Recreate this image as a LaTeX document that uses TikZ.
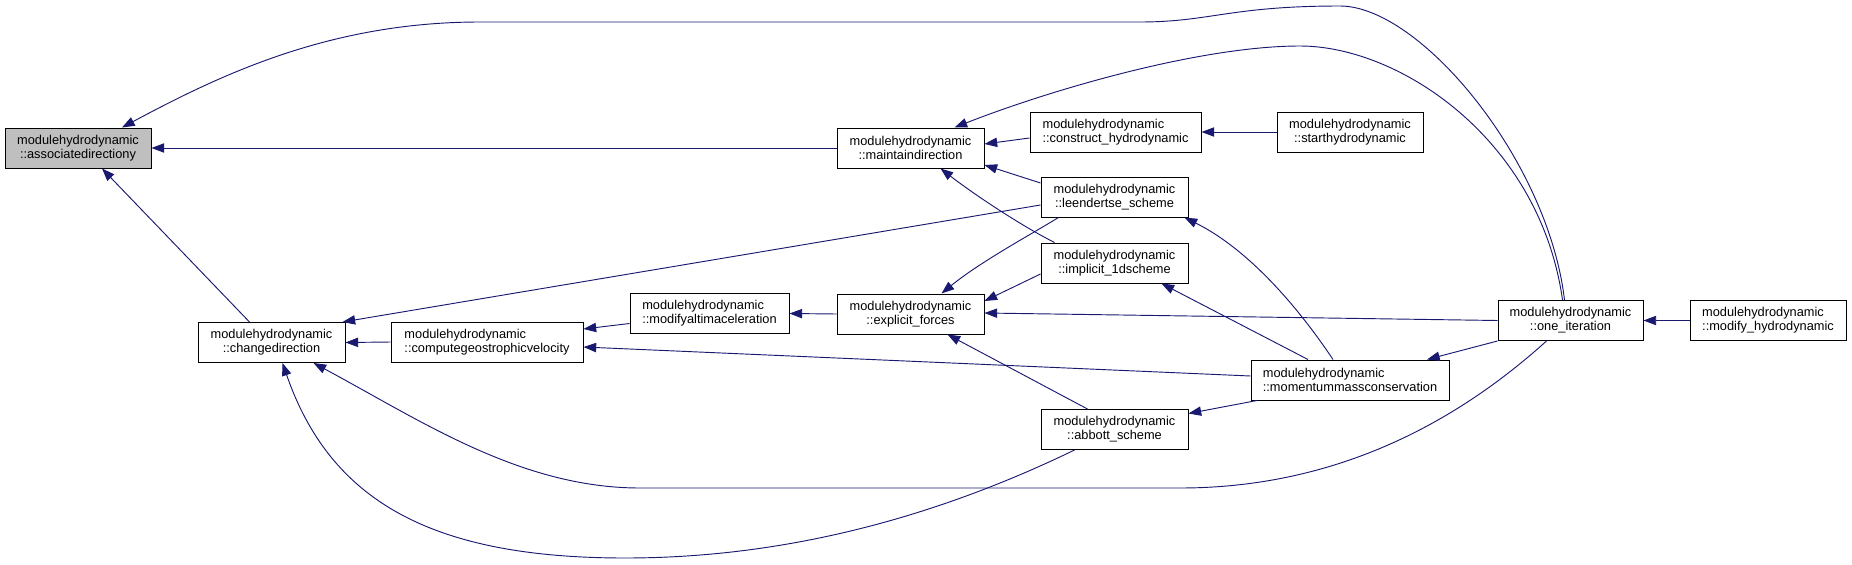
\documentclass[tikz,border=0pt]{standalone}
\usepackage{fontspec}
\setmainfont{Liberation Sans}
\usetikzlibrary{arrows.meta,calc}
\definecolor{edgeblue}{RGB}{25,25,112}
\definecolor{selgray}{RGB}{191,191,191}
\begin{document}
\begin{tikzpicture}[x=0.75pt,y=-0.75pt,
  fn/.style={draw=black, line width=0.75pt, inner sep=0pt, minimum height=30pt,
    font=\fontsize{9.6}{10.4}\selectfont, align=center},
  fnl/.style={fn, align=left},
  edge/.style={draw=edgeblue, line width=0.7pt, -{Triangle[length=9.5pt,width=7pt]}}]
\useasboundingbox (0,0) rectangle (1852,564);

\node[fn, fill=selgray, minimum width=109.5pt] (A) at (78,148) {modulehydrodynamic\\::associatedirectiony};
\node[fn, minimum width=110.25pt] (CD) at (271.5,342.5) {modulehydrodynamic\\::changedirection};
\node[fnl, minimum width=144pt] (CG) at (487,342) {modulehydrodynamic\\::computegeostrophicvelocity};
\node[fnl, minimum width=119.25pt] (MA) at (709.5,313.5) {modulehydrodynamic\\::modifyaltimaceleration};
\node[fn, minimum width=110.25pt] (MD) at (910.5,148) {modulehydrodynamic\\::maintaindirection};
\node[fnl, minimum width=128.25pt] (CH) at (1115.5,132) {modulehydrodynamic\\::construct\_hydrodynamic};
\node[fn, minimum width=109.5pt] (SH) at (1350,132) {modulehydrodynamic\\::starthydrodynamic};
\node[fn, minimum width=110.25pt] (LS) at (1114.5,197) {modulehydrodynamic\\::leendertse\_scheme};
\node[fn, minimum width=110.25pt] (IS) at (1114.5,263) {modulehydrodynamic\\::implicit\_1dscheme};
\node[fn, minimum width=110.25pt] (EF) at (910.5,314) {modulehydrodynamic\\::explicit\_forces};
\node[fn, minimum width=110.25pt] (AS) at (1114.5,429.5) {modulehydrodynamic\\::abbott\_scheme};
\node[fnl, minimum width=148.5pt] (MM) at (1350,380) {modulehydrodynamic\\::momentummassconservation};
\node[fn, minimum width=108.75pt] (OI) at (1570.5,320.5) {modulehydrodynamic\\::one\_iteration};
\node[fnl, minimum width=117pt] (MH) at (1768,320.5) {modulehydrodynamic\\::modify\_hydrodynamic};

% edges into associatedirectiony
\draw[edge] (MD.west) -- (A.east);
\draw[edge] ($(CD.north)+(-22,0)$) -- ($(A.south)+(24,0)$);
\draw[edge] ($(OI.north)+(-6,0)$) .. controls (1548,160) and (1420,6) .. (1340,6)
  .. controls (1230,6) and (1210,22) .. (1140,22) -- (480,22)
  .. controls (330,22) and (220,75) .. ($(A.north)+(44,0)$);

% edges into maintaindirection
\draw[edge] ($(OI.north)+(-8,0)$) .. controls (1540,140) and (1400,46) .. (1300,46)
  .. controls (1200,46) and (1050,90) .. ($(MD.north)+(44,0)$);
\draw[edge] ($(CH.west)+(0,6)$) -- ($(MD.east)+(0,-4)$);
\draw[edge] ($(LS.west)+(0,-14)$) -- ($(MD.east)+(0,17)$);
\draw[edge] ($(IS.north)+(-60,0)$) .. controls (1020,225) and (975,195) .. ($(MD.south)+(30,0)$);
\draw[edge] (SH.west) -- (CH.east);

% edges into changedirection
\draw[edge] (CG.west) -- (CD.east);
\draw[edge] ($(LS.west)+(0,8)$) -- ($(CD.north east)+(-3,0)$);
\draw[edge] ($(OI.south)+(-24,0)$) .. controls (1470,410) and (1350,488) .. (1180,488)
  -- (640,488) .. controls (520,488) and (420,420) .. ($(CD.south)+(42,0)$);
\draw[edge] ($(AS.south)+(-40,0)$) .. controls (930,520) and (780,558) .. (625,558)
  .. controls (430,558) and (330,500) .. ($(CD.south)+(11,0)$);

% computegeostrophicvelocity, modifyaltimaceleration
\draw[edge] ($(MA.west)+(0,10)$) -- ($(CG.east)+(0,-13)$);
\draw[edge] ($(MM.west)+(0,-4)$) -- ($(CG.east)+(0,5)$);
\draw[edge] (EF.west) -- (MA.east);

% explicit_forces
\draw[edge] ($(LS.south)+(-56,0)$) .. controls (1030,235) and (980,262) .. ($(EF.north)+(31,0)$);
\draw[edge] ($(IS.west)+(0,11)$) -- ($(EF.east)+(0,-13)$);
\draw[edge] (OI.west) -- ($(EF.east)+(0,-1)$);
\draw[edge] ($(AS.north)+(-27,0)$) -- ($(EF.south)+(37,0)$);

% momentummassconservation callees
\draw[edge] ($(MM.north)+(-17,0)$) .. controls (1300,310) and (1250,250) .. ($(LS.south)+(70,0)$);
\draw[edge] ($(MM.north)+(-42,0)$) -- ($(IS.south)+(47,0)$);
\draw[edge] ($(MM.south)+(-93,0)$) -- ($(AS.east)+(0,-16)$);
\draw[edge] (OI.south west) -- ($(MM.north)+(77,0)$);
\draw[edge] (MH.west) -- (OI.east);
\end{tikzpicture}
\end{document}
